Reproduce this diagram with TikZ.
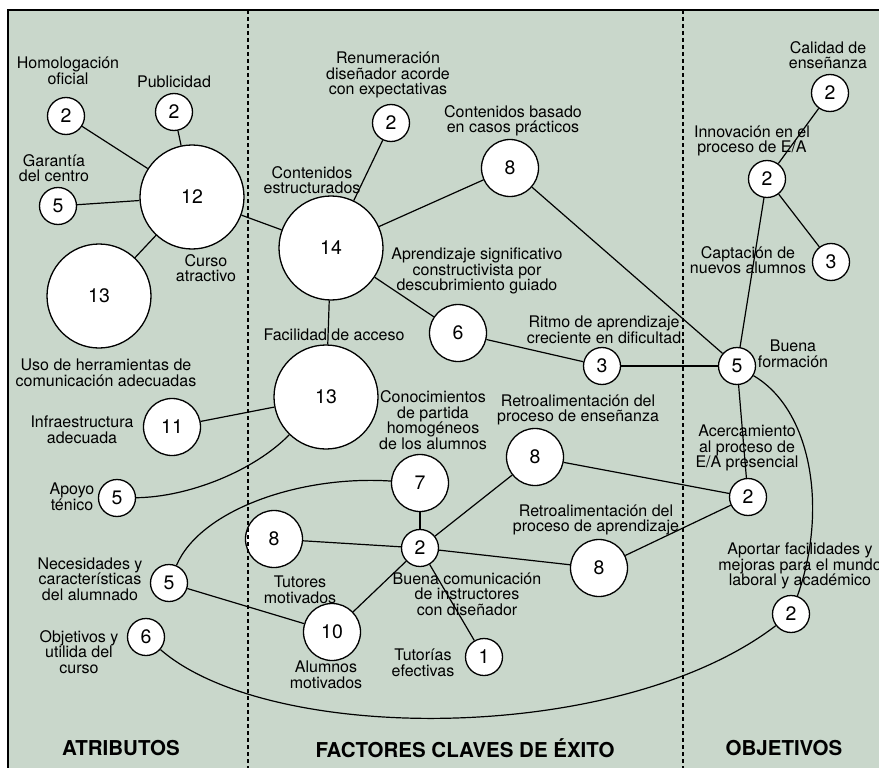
\documentclass[tikz,border=0pt]{standalone}
\usepackage{fontspec}
\setmainfont{TeX Gyre Heros}
\definecolor{panelgreen}{RGB}{201,215,203}
\newcommand{\lblfont}{\fontsize{16}{15.5}\selectfont}
\newcommand{\numfont}{\fontsize{19.5}{21}\selectfont}
\newcommand{\headfont}{\fontsize{20.5}{22}\selectfont\bfseries}
\tikzset{
  link/.style    = {line width=1.2pt},
  divider/.style = {line width=1.2pt, dash pattern=on 4pt off 3pt},
  ball/.style    = {circle, draw, line width=1.3pt, fill=white,
                    inner sep=0pt, font=\numfont},
  ball s/.style  = {ball, minimum size=37pt},
  ball m/.style  = {ball, minimum size=57pt},
  ball l/.style  = {ball, minimum size=104pt},
  lbl/.style     = {align=center, inner sep=0pt, font=\lblfont},
  colhead/.style = {inner sep=0pt, font=\headfont},
}

\begin{document}
\begin{tikzpicture}[x=1pt,y=-1pt]
  \useasboundingbox (0,0) rectangle (879,768);
  % ---- panel ---------------------------------------------------------------
  \fill[white] (0,0) rectangle (879,768);
  \fill[panelgreen] (8,10) rectangle (879,768);
  \draw[line width=1.5pt] (8,768) -- (8,10) -- (879,10);

  % ---- labels --------------------------------------------------------------
  \node[lbl] (l-homo)   at (68,71)   {Homologación\\oficial};
  \node[lbl] (l-pub)    at (174,82)  {Publicidad};
  \node[lbl] (l-gar)    at (54,168)  {Garantía\\del centro};
  \node[lbl] (l-curso)  at (206,268) {Curso\\atractivo};
  \node[lbl] (l-uso)    at (106,373) {Uso de herramientas de\\comunicación adecuadas};
  \node[lbl] (l-infra)  at (82,430)  {Infraestructura\\adecuada};
  \node[lbl] (l-apoyo)  at (72,497)  {Apoyo\\ténico};
  \node[lbl] (l-nec)    at (90,579)  {Necesidades y\\características\\del alumnado};
  \node[lbl] (l-obj)    at (79,652)  {Objetivos y\\utilida del\\curso};

  \node[lbl] (l-renum)  at (388,75)  {Renumeración\\diseñador acorde\\con expectativas};
  \node[lbl] (l-cbas)   at (513,121) {Contenidos basado\\en casos prácticos};
  \node[lbl] (l-cest)   at (312,180) {Contenidos\\estructurados};
  \node[lbl] (l-apr)    at (477,271) {Aprendizaje significativo\\constructivista por\\descubrimiento guiado};
  \node[lbl] (l-fac)    at (334,335) {Facilidad de acceso};
  \node[lbl] (l-ritmo)  at (604,330) {Ritmo de aprendizaje\\creciente en dificultad};
  \node[lbl] (l-cono)   at (433,420) {Conocimientos\\de partida\\homogéneos\\de los alumnos};
  \node[lbl] (l-rens)   at (578,410) {Retroalimentación del\\proceso de enseñanza};
  \node[lbl] (l-rapr)   at (596,520) {Retroalimentación del\\proceso de aprendizaje};
  \node[lbl] (l-tut)    at (300,590) {Tutores\\motivados};
  \node[lbl] (l-alum)   at (326,675) {Alumnos\\motivados};
  \node[lbl] (l-com)    at (467,594) {Buena comunicación\\de instructores\\con diseñador};
  \node[lbl] (l-tutor)  at (423,663) {Tutorías\\efectivas};

  \node[lbl] (l-calid)  at (828,55)  {Calidad de\\enseñanza};
  \node[lbl] (l-innov)  at (752,141) {Innovación en el\\proceso de E/A};
  \node[lbl] (l-capt)   at (748,260) {Captación de\\nuevos alumnos};
  \node[lbl] (l-buena)  at (793,354) {Buena\\formación};
  \node[lbl] (l-acerc)  at (747,448) {Acercamiento\\al proceso de\\E/A presencial};
  \node[lbl] (l-aport)  at (800,566) {Aportar facilidades y\\mejoras para el mundo\\laboral y académico};

  % ---- circles -------------------------------------------------------------
  \node[ball s] (c-homo)   at (66,116)  {2};
  \node[ball s] (c-pub)    at (174,112) {2};
  \node[ball s] (c-gar)    at (58,206)  {5};
  \node[ball l] (c-curso)  at (192,197) {12};
  \node[ball l] (c-uso)    at (99,296)  {13};
  \node[ball m] (c-infra)  at (172,427) {11};
  \node[ball s] (c-apoyo)  at (117,498) {5};
  \node[ball s] (c-nec)    at (169,583) {5};
  \node[ball s] (c-obj)    at (146,637) {6};

  \node[ball s] (c-renum)  at (391,123) {2};
  \node[ball m] (c-cbas)   at (510,168) {8};
  \node[ball l] (c-cest)   at (331,248) {14};
  \node[ball m] (c-apr)    at (458,333) {6};
  \node[ball s] (c-ritmo)  at (602,366) {3};
  \node[ball l] (c-fac)    at (326,397) {13};
  \node[ball m] (c-cono)   at (420,483) {7};
  \node[ball m] (c-rens)   at (535,457) {8};
  \node[ball m] (c-tut)    at (274,539) {8};
  \node[ball s] (c-com)    at (420,548) {2};
  \node[ball m] (c-rapr)   at (599,568) {8};
  \node[ball m] (c-alum)   at (332,632) {10};
  \node[ball s] (c-tutor)  at (484,657) {1};

  \node[ball s] (c-calid)  at (830,93)  {2};
  \node[ball s] (c-innov)  at (767,179) {2};
  \node[ball s] (c-capt)   at (831,262) {3};
  \node[ball s] (c-buena)  at (737,366) {5};
  \node[ball s] (c-acerc)  at (748,497) {2};
  \node[ball s] (c-aport)  at (791,614) {2};

  % ---- links ---------------------------------------------------------------
  \draw[link] (c-homo) -- (c-curso);
  \draw[link] (c-pub) -- (c-curso);
  \draw[link] (c-gar) -- (c-curso);
  \draw[link] (c-uso) -- (c-curso);
  \draw[link] (c-curso) -- (c-cest);
  \draw[link] (c-cest) -- (c-renum);
  \draw[link] (c-cest) -- (c-cbas);
  \draw[link] (c-cest) -- (c-apr);
  \draw[link] (c-cest) -- (c-fac);
  \draw[link] (c-cbas) -- (c-buena);
  \draw[link] (c-apr) -- (c-ritmo);
  \draw[link] (c-ritmo) -- (c-buena);
  \draw[link] (c-buena) -- (c-innov);
  \draw[link] (c-innov) -- (c-calid);
  \draw[link] (c-innov) -- (c-capt);
  \draw[link] (c-buena) -- (c-acerc);
  \draw[link] (c-fac) -- (c-infra);
  \draw[link] (c-cono) -- (c-com);
  \draw[link] (c-tut) -- (c-com);
  \draw[link] (c-com) -- (c-rens);
  \draw[link] (c-com) -- (c-rapr);
  \draw[link] (c-com) -- (c-alum);
  \draw[link] (c-com) -- (c-tutor);
  \draw[link] (c-nec) -- (c-alum);
  \draw[link] (c-rens) -- (c-acerc);
  \draw[link] (c-rapr) -- (c-acerc);
  % curved ones
  \draw[link] (c-fac) .. controls (255,470) and (190,497) .. (c-apoyo);
  \draw[link] (c-cono) .. controls (300,475) and (200,510) .. (c-nec);
  \draw[link] (c-buena) .. controls (812,410) and (828,510) .. (c-aport);
  \draw[link] (c-obj) .. controls (270,745) and (620,745) .. (c-aport);

  % ---- column dividers and headings ---------------------------------------
  \draw[divider] (248,10) coordinate (d1) -- (248,768);
  \draw[divider] (683,10) coordinate (d2) -- (683,768);
  \node[colhead] (h-atr) at (121,748) {ATRIBUTOS};
  \node[colhead] (h-fac) at (465,748) {FACTORES CLAVES DE ÉXITO};
  \node[colhead] (h-obj) at (784,748) {OBJETIVOS};
\end{tikzpicture}
\end{document}
